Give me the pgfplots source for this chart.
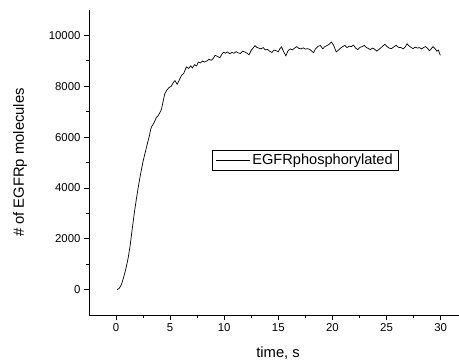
\documentclass[border=0pt]{standalone}
\usepackage{fontspec}
\setmainfont{Liberation Sans}
\usepackage{pgfplots}
\pgfplotsset{compat=1.18}
\begin{document}
\begin{tikzpicture}
\begin{axis}[
  scale only axis, width=370pt, height=305pt,
  xmin=-2.5, xmax=31.7, ymin=-1000, ymax=11000,
  axis lines=left, axis line style={-, line width=0.8pt},
  xtick={0,5,...,30}, ytick={0,2000,...,10000},
  minor tick num=1,
  tick align=outside, major tick length=5pt, minor tick length=3pt,
  tick style={black, line width=0.8pt},
  scaled y ticks=false,
  /pgf/number format/assume math mode=true,
  /pgf/number format/1000 sep={},
  tick label style={font=\fontsize{11.4}{13}\selectfont},
  xlabel={time, s}, ylabel={\# of EGFRp molecules},
  every axis x label/.style={at={(axis description cs:0.511,-0.125)}, anchor=center, font=\fontsize{14.8}{17}\selectfont},
  every axis y label/.style={at={(axis description cs:-0.1865,0.5)}, anchor=center, rotate=90, font=\fontsize{14.8}{17}\selectfont},
  legend style={at={(axis description cs:0.332,0.541)}, anchor=north west,
    draw=black, line width=0.6pt, font=\fontsize{14.6}{17}\selectfont, inner ysep=1.8pt, inner xsep=3.5pt},
  legend image code/.code={\draw[#1, line width=0.7pt] (0pt,0pt) -- (34pt,0pt);},
  legend cell align=left,
]
\addplot[black, line width=0.7pt] coordinates {
(0.1,0)(0.3,50)(0.5,200)(0.7,480)(0.9,800)(1.1,1200)(1.3,1720)(1.5,2400)(1.7,3050)(1.9,3620)
(2.1,4150)(2.3,4620)(2.5,5050)(2.7,5400)(2.9,5750)(3.1,6080)(3.2,6300)(3.3,6420)(3.5,6550)(3.7,6750)
(3.9,6850)(4.1,7000)(4.2,7100)(4.35,7400)(4.5,7700)(4.7,7850)(4.9,7950)(5.1,8000)(5.3,8150)(5.45,8220)
(5.65,8080)(5.85,8250)(6.05,8430)(6.25,8500)(6.5,8760)(6.7,8700)(6.9,8800)(7.05,8720)(7.25,8850)(7.45,8800)
(7.6,8950)(7.8,8920)(8.0,8990)(8.2,8950)(8.4,9000)(8.6,9060)(8.8,9020)(9.0,9100)(9.15,9220)(9.35,9180)
(9.6,9120)(9.8,9280)(9.95,9340)
(10.1,9300)(10.3,9350)(10.5,9280)(10.7,9330)(10.9,9300)(11.1,9360)(11.3,9310)(11.5,9290)(11.7,9380)(11.9,9350)
(12.1,9300)(12.3,9240)(12.5,9420)(12.7,9520)(12.85,9600)(13.0,9530)(13.2,9500)(13.4,9470)(13.6,9520)(13.8,9430)
(14.0,9450)(14.2,9380)(14.4,9330)(14.6,9420)(14.8,9400)(15.0,9360)(15.15,9480)(15.3,9550)(15.5,9350)(15.7,9200)
(15.9,9400)(16.1,9470)(16.3,9430)(16.5,9500)(16.7,9560)(16.9,9490)(17.1,9470)(17.3,9510)(17.5,9460)(17.7,9480)
(17.9,9450)(18.1,9380)(18.25,9320)(18.45,9480)(18.7,9580)(18.9,9600)(19.1,9470)(19.3,9560)(19.5,9600)(19.7,9650)
(19.9,9740)(20.1,9620)(20.35,9350)(20.55,9420)(20.75,9500)(20.95,9560)(21.15,9610)(21.35,9520)(21.55,9580)(21.75,9560)
(21.95,9620)(22.15,9500)(22.35,9440)(22.55,9530)(22.75,9560)(22.95,9610)(23.15,9520)(23.35,9480)(23.5,9440)(23.7,9500)
(23.9,9460)(24.1,9380)(24.3,9450)(24.5,9520)(24.7,9600)(24.85,9650)(25.05,9560)(25.25,9500)(25.45,9480)(25.65,9540)
(25.9,9610)(26.1,9530)(26.35,9520)(26.55,9470)(26.75,9560)(26.9,9670)(27.1,9580)(27.3,9520)(27.45,9480)(27.65,9540)
(27.85,9500)(28.05,9520)(28.25,9470)(28.45,9530)(28.6,9560)(28.8,9490)(28.97,9400)(29.15,9480)(29.3,9560)(29.5,9470)
(29.65,9380)(29.8,9420)(29.97,9215)
};
\addlegendentry{EGFRphosphorylated}
\end{axis}
\pgfresetboundingbox
\path[use as bounding box] (-89pt,-45pt) rectangle (370pt,315pt);
\end{tikzpicture}
\end{document}
